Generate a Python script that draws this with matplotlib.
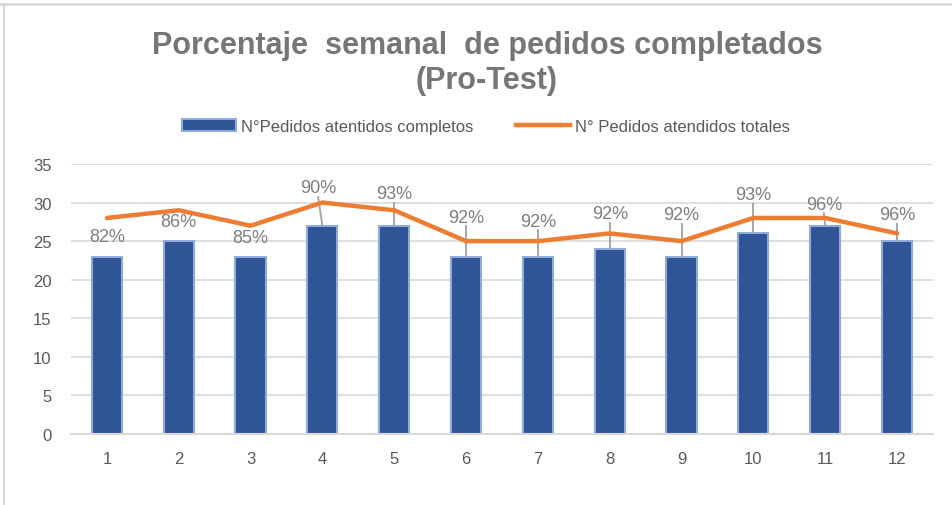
import matplotlib
matplotlib.use('Agg')
import matplotlib.pyplot as plt
from matplotlib.lines import Line2D
from matplotlib.patches import Patch

plt.rcParams['font.family'] = ['Liberation Sans Narrow', 'Liberation Sans', 'DejaVu Sans']

# datos
semanas = [1, 2, 3, 4, 5, 6, 7, 8, 9, 10, 11, 12]
completos = [23, 25, 23, 27, 27, 23, 23, 24, 23, 26, 27, 25]
totales = [28, 29, 27, 30, 29, 25, 25, 26, 25, 28, 28, 26]
porcentajes = ['82%', '86%', '85%', '90%', '93%', '92%',
               '92%', '92%', '92%', '93%', '96%', '96%']

# posiciones de las etiquetas (desplazadas a mano, como en Excel)
label_y = [25.6, 27.6, 25.5, 31.9, 31.2, 28.1, 27.6, 28.6, 28.4, 31.0, 29.8, 28.4]
label_dx = [0, 0, 0, -0.06, 0, 0, 0, 0, 0, 0, -0.02, 0]
con_lider = [False, False, False, True, True, True, True, True, True, True, True, True]

azul = '#2f5597'
naranja = '#ed7d31'
gris = '#595959'

fig = plt.figure(figsize=(9.53, 5.06), dpi=100)
ax = fig.add_axes([0.0745, 0.1403, 0.9045, 0.5337])

ax.bar(semanas, completos, width=0.42, color=azul, edgecolor='#8faadc',
       linewidth=1.5, zorder=2)
ax.plot(semanas, totales, color=naranja, linewidth=3.2, solid_capstyle='round',
        zorder=4)

for x, v, ly, dx, lider, txt in zip(semanas, completos, label_y, label_dx,
                                    con_lider, porcentajes):
    if lider:
        ax.plot([x, x + dx], [v, ly - 1.2], color='#a6a6a6', linewidth=1.4,
                zorder=3)
    ax.text(x + dx, ly, txt, ha='center', va='center', fontsize=13,
            color='#7f7f7f', zorder=5)

ax.set_xlim(0.5, 12.5)
ax.set_ylim(0, 35)
ax.set_yticks(range(0, 36, 5))
ax.set_xticks(semanas)
ax.grid(axis='y', color='#d9d9d9', linewidth=1.2, zorder=0)
ax.set_axisbelow(True)
for s in ['top', 'right', 'left']:
    ax.spines[s].set_visible(False)
ax.spines['bottom'].set_color('#d9d9d9')
ax.spines['bottom'].set_linewidth(1.5)
ax.tick_params(axis='both', length=0, labelsize=12, labelcolor=gris)
ax.tick_params(axis='x', pad=12)
ax.tick_params(axis='y', pad=14)

fig.text(0.511, 0.875, 'Porcentaje  semanal  de pedidos completados\n(Pro-Test)',
         ha='center', va='center', fontsize=22, fontweight='bold',
         color='#767676', linespacing=1.2)

handles = [Patch(facecolor=azul, edgecolor='#8faadc', linewidth=1.5),
           Line2D([0], [0], color=naranja, linewidth=3.2)]
fig.legend(handles, ['N°Pedidos atentidos completos', 'N° Pedidos atendidos totales'],
           loc='center', bbox_to_anchor=(0.51, 0.749), ncol=2, frameon=False,
           fontsize=12, labelcolor=gris, handlelength=3.2, handletextpad=0.3,
           columnspacing=2.6)

# borde del área del gráfico
fig.add_artist(Line2D([0, 1], [0.99, 0.99], color='#d9d9d9', linewidth=2,
                      transform=fig.transFigure))
fig.add_artist(Line2D([0.004, 0.004], [0, 0.99], color='#d9d9d9', linewidth=1.5,
                      transform=fig.transFigure))

fig.savefig('out.png', dpi=100, facecolor='white')
